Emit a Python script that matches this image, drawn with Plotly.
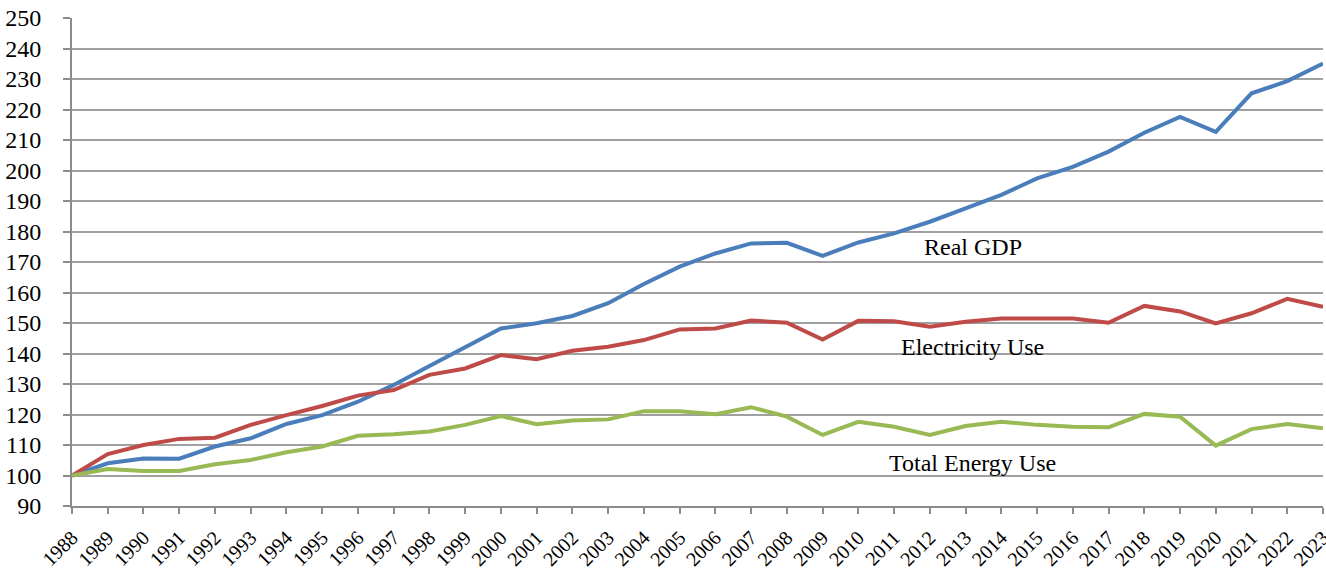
import plotly.graph_objects as go

years = list(range(1988, 2024))
real_gdp = [100, 104, 105.6, 105.5, 109.5, 112.2, 116.9, 119.8, 124.2, 129.7, 135.9,
            142.2, 148.2, 149.9, 152.3, 156.5, 162.8, 168.5, 172.8, 176.1, 176.3, 172,
            176.4, 179.4, 183.2, 187.6, 192, 197.4, 201.2, 206.2, 212.4, 217.6, 212.7,
            225.3, 229.3, 235.1]
electricity = [100, 107, 110, 112, 112.4, 116.6, 119.8, 122.8, 126.2, 128, 133,
               135.1, 139.5, 138.1, 140.9, 142.2, 144.4, 147.9, 148.2, 150.8, 150.1, 144.6,
               150.7, 150.6, 148.8, 150.4, 151.5, 151.5, 151.5, 150.1, 155.6, 153.8, 149.9,
               153.2, 157.9, 155.3]
total_energy = [100, 102.1, 101.5, 101.5, 103.7, 105.1, 107.6, 109.5, 113, 113.5, 114.4,
                116.6, 119.5, 116.8, 118, 118.4, 121.1, 121.1, 120.1, 122.4, 119.3, 113.3,
                117.6, 116, 113.3, 116.2, 117.6, 116.6, 116, 115.8, 120.2, 119.3, 109.8,
                115.2, 116.9, 115.5]
y_ticks = list(range(90, 251, 10))
labels = [("Real GDP", 2013.2, 174.9), ("Electricity Use", 2013.2, 142.1), ("Total Energy Use", 2013.2, 104.1)]

FONT = "Liberation Serif"

fig = go.Figure()
fig.add_trace(go.Scatter(x=years, y=real_gdp, mode="lines", name="Real GDP",
                         line=dict(color="#4A7EBB", width=4)))
fig.add_trace(go.Scatter(x=years, y=electricity, mode="lines", name="Electricity Use",
                         line=dict(color="#BE4B48", width=4)))
fig.add_trace(go.Scatter(x=years, y=total_energy, mode="lines", name="Total Energy Use",
                         line=dict(color="#98B954", width=4)))

for text, xv, yv in labels:
    fig.add_annotation(x=xv, y=yv, text=text, showarrow=False, xanchor="center", yanchor="middle",
                       font=dict(family=FONT, size=24, color="black"))

fig.update_layout(
    width=1326, height=573,
    margin=dict(l=72, r=3, t=18, b=67, autoexpand=False),
    paper_bgcolor="white", plot_bgcolor="white",
    showlegend=False,
    font=dict(family=FONT, color="black"),
)
fig.update_xaxes(
    range=[1988, 2023], tickmode="array", tickvals=years, ticktext=[str(y) for y in years],
    tickangle=-45, tickfont=dict(family=FONT, size=20, color="black"),
    showgrid=False, showline=True, linecolor="#8C8C8C", linewidth=2,
    ticks="outside", ticklen=6, tickcolor="#8C8C8C", tickwidth=1.5, zeroline=False,
    automargin=False, ticklabelstandoff=4, ticklabeloverflow="allow",
)
fig.update_yaxes(
    range=[90, 250], tickmode="array", tickvals=y_ticks,
    tickfont=dict(family=FONT, size=24, color="black"),
    showgrid=True, gridcolor="#A0A0A0", gridwidth=1.5,
    showline=True, linecolor="#8C8C8C", linewidth=2,
    ticks="outside", ticklen=7, tickcolor="#8C8C8C", tickwidth=1.5, zeroline=False,
    ticklabelstandoff=17, automargin=False, ticklabeloverflow="allow",
)

fig.write_html("out.html", config={"displayModeBar": False},
               post_script="document.body.style.margin='0px';")
